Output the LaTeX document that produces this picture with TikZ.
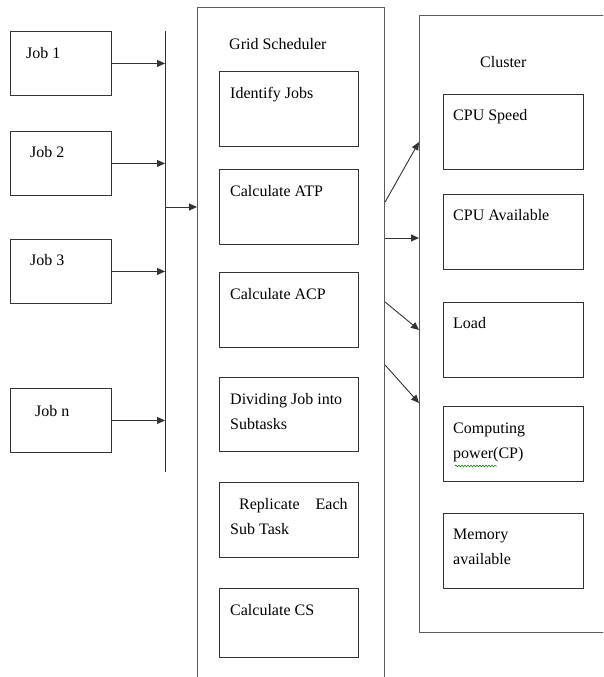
\documentclass[tikz,border=0pt]{standalone}
\usepackage{fontspec}
\setmainfont{Liberation Serif}
\usetikzlibrary{arrows.meta,positioning,decorations.pathmorphing}
\definecolor{boxgray}{rgb}{0.2,0.2,0.2}

\begin{document}
\begin{tikzpicture}[x=1pt, y=-1pt, >={Triangle[length=8pt,width=7pt]},
    every node/.style={font=\fontsize{16}{25}\selectfont},
    frame/.style={draw=boxgray!80, line width=1.1pt, anchor=north west, inner sep=0pt},
    jobbox/.style={draw=boxgray, line width=0.9pt, minimum width=101, minimum height=64, anchor=north west, inner sep=0pt},
    taskbox/.style={draw=boxgray, line width=0.9pt, minimum width=139, minimum height=75, anchor=north west, inner sep=0pt},
    resbox/.style={draw=boxgray, line width=0.9pt, minimum width=140, minimum height=75, anchor=north west, inner sep=0pt},
    txt/.style={anchor=north west, inner sep=0pt, align=left},
    conn/.style={draw=boxgray, line width=0.9pt}]
  \useasboundingbox (0,0) rectangle (603,677);
  \clip (0,0) rectangle (603,677);

  % outer frames (cut by the page edge)
  \node[frame, minimum width=187, minimum height=690] (sched) at (197,7) {};
  \node[frame, minimum width=200, minimum height=617] (clus) at (419,15) {};
  \node[anchor=base west, inner sep=0pt] (schedt) at (229,50) {Grid Scheduler};
  \node[anchor=base west, inner sep=0pt] (clust) at (480,67) {Cluster};

  % jobs
  \node[jobbox] (job1) at (10,31) {};
  \node[txt] (job1t) at ([shift={(16,16)}]job1.north west) {Job 1};
  \node[jobbox] (job2) at (10,131) {};
  \node[txt] (job2t) at ([shift={(20,15)}]job2.north west) {Job 2};
  \node[jobbox] (job3) at (10,239) {};
  \node[txt] (job3t) at ([shift={(20,15)}]job3.north west) {Job 3};
  \node[jobbox] (jobn) at (10,388) {};
  \node[txt] (jobnt) at ([shift={(25,17)}]jobn.north west) {Job n};

  % bus
  \coordinate (bustop) at (165,31);
  \coordinate (busbot) at (165,472);
  \coordinate (busout) at (165,207);
  \draw[conn] (bustop) -- (busbot);
  \foreach \j in {job1,job2,job3,jobn}
    \draw[conn,->] (\j.east) -- (\j.east -| bustop);
  \draw[conn,->] (busout) -- (busout -| sched.west);

  % scheduler steps
  \node[taskbox] (ident) at (219,71) {};
  \node[txt] (identt) at ([shift={(11,16)}]ident.north west) {Identify Jobs};
  \node[taskbox] (atp) at (219,169) {};
  \node[txt] (atpt) at ([shift={(11,16)}]atp.north west) {Calculate ATP};
  \node[taskbox] (acp) at (219,272) {};
  \node[txt] (acpt) at ([shift={(11,16)}]acp.north west) {Calculate ACP};
  \node[taskbox, minimum height=74] (divide) at (219,377) {};
  \node[txt] (dividet) at ([shift={(11,16)}]divide.north west) {Dividing Job into\\Subtasks};
  \node[taskbox] (repl) at (219,482) {};
  \node[txt] (replt) at ([shift={(11,16)}]repl.north west) {\hspace*{9pt}Replicate\hspace{16pt}Each\\Sub Task};
  \node[taskbox, minimum height=69] (cs) at (219,588) {};
  \node[txt] (cst) at ([shift={(11,16)}]cs.north west) {Calculate CS};

  % cluster resources
  \node[resbox] (speed) at (443,94) {};
  \node[txt] (speedt) at ([shift={(10,15)}]speed.north west) {CPU Speed};
  \node[resbox] (avail) at (443,194) {};
  \node[txt] (availt) at ([shift={(10,15)}]avail.north west) {CPU Available};
  \node[resbox] (load) at (443,302) {};
  \node[txt] (loadt) at ([shift={(10,15)}]load.north west) {Load};
  \node[resbox] (power) at (443,406) {};
  \node[txt] (powert) at ([shift={(10,17)}]power.north west) {Computing\\power(CP)};
  \node[resbox] (memory) at (443,513) {};
  \node[txt] (memoryt) at ([shift={(10,16)}]memory.north west) {Memory\\available};
  \draw[green!45!black, line width=0.5pt, decorate,
        decoration={snake, amplitude=0.9pt, segment length=3pt}] (455,466) -- (497,466);

  % scheduler to cluster
  \draw[conn,->] (sched.east |- 0,202) -- (clus.west |- 0,142);
  \draw[conn,->] (sched.east |- 0,238) -- (clus.west |- 0,238);
  \draw[conn,->] (sched.east |- 0,302) -- (clus.west |- 0,330);
  \draw[conn,->] (sched.east |- 0,365) -- (clus.west |- 0,403);
\end{tikzpicture}
\end{document}
